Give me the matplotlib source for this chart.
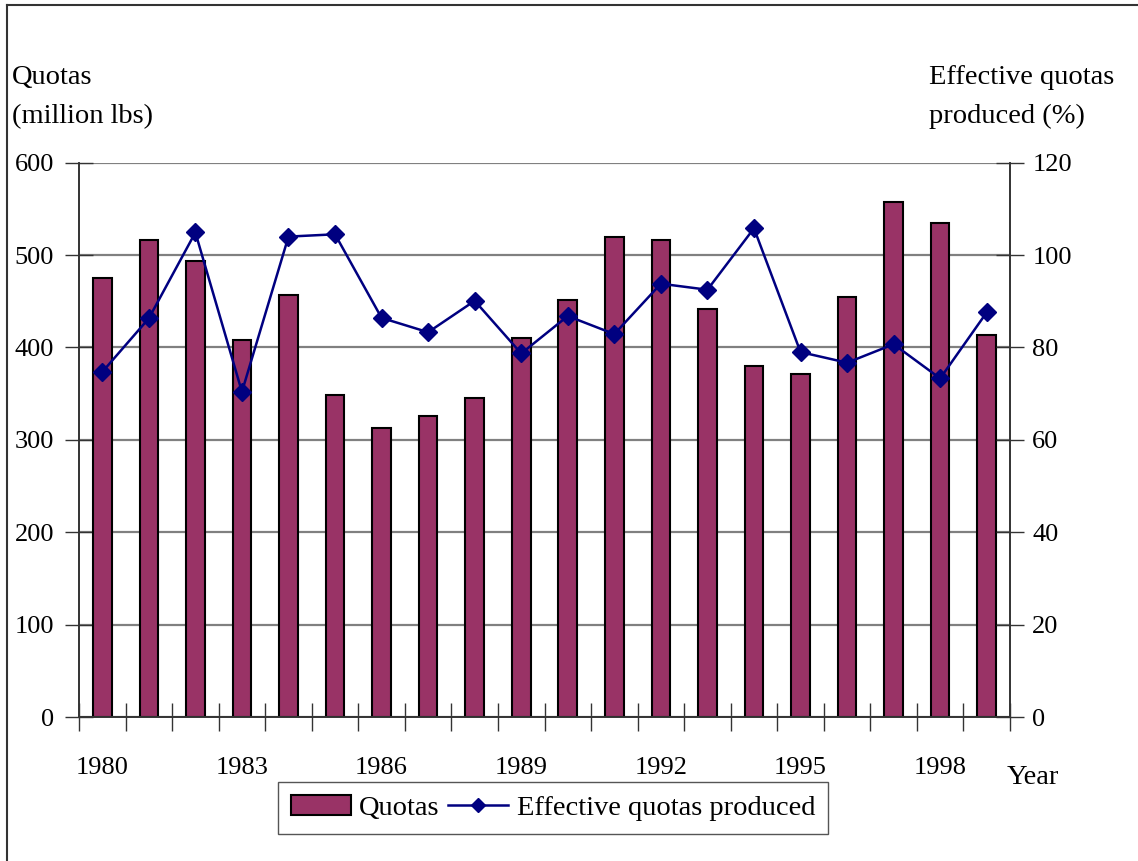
import matplotlib
matplotlib.use("Agg")
import matplotlib.pyplot as plt
from matplotlib.lines import Line2D
from matplotlib.patches import Patch
import numpy as np

years = list(range(1980, 2000))
quotas = [475, 516, 494, 408, 457, 349, 313, 326, 345, 410,
          451, 520, 516, 442, 380, 371, 455, 557, 535, 414]
effective = [74.7, 86.3, 104.9, 70.4, 104.0, 104.5, 86.4, 83.3, 90.1, 78.7,
             86.8, 82.9, 93.8, 92.5, 105.8, 79.0, 76.7, 80.7, 73.3, 87.6]
left_ticks = [0, 100, 200, 300, 400, 500, 600]
right_ticks = [0, 20, 40, 60, 80, 100, 120]
label_years = years[::3]

plt.rcParams['font.family'] = ['Liberation Serif', 'DejaVu Serif']
FS = 19
FT = 20.5
BAR = '#993366'
LINE = '#000080'

W, H = 1138, 861
fig = plt.figure(figsize=(W / 100, H / 100), dpi=100)
ax = fig.add_axes([79 / W, 1 - 717 / H, (1010 - 79) / W, (717 - 162.7) / H])
ax2 = ax.twinx()

x = np.arange(len(years))
ax.bar(x, quotas, width=0.4, color=BAR, edgecolor='black', linewidth=1.5, zorder=2)
ax2.plot(x, effective, color=LINE, linewidth=1.8, marker='D', markersize=9.5,
         markerfacecolor=LINE, markeredgecolor=LINE, zorder=3)

ax.set_xlim(-0.5, len(years) - 0.5)
ax.set_ylim(0, 600)
ax2.set_ylim(0, 120)
ax.set_yticks(left_ticks)
ax2.set_yticks(right_ticks)
ax.set_yticklabels([str(v) for v in left_ticks], fontsize=FS)
ax2.set_yticklabels([str(v) for v in right_ticks], fontsize=FS)

ax.set_xticks(np.arange(-0.5, len(years), 1.0))
ax.set_xticklabels([])
lab_pos = [years.index(y) for y in label_years]
ax.set_xticks(lab_pos, minor=True)
ax.set_xticklabels([str(y) for y in label_years], minor=True, fontsize=FS)
ax.tick_params(axis='x', which='major', direction='inout', length=20, width=1, color='#333333')
ax.tick_params(axis='x', which='minor', length=0, pad=29)
ax.tick_params(axis='y', direction='inout', length=20, width=1, color='#333333', pad=8)
ax2.tick_params(axis='y', direction='inout', length=20, width=1, color='#333333', pad=6)

ax.grid(axis='y', color='#808080', linewidth=1.6)
ax.set_axisbelow(True)
for a in (ax, ax2):
    a.spines['top'].set_visible(False)
    for s in ('left', 'right', 'bottom'):
        a.spines[s].set_color('#333333')
        a.spines[s].set_linewidth(1.2)

fig.text(12 / W, 1 - 97 / H, 'Quotas\n(million lbs)', fontsize=FT, ha='left', va='center',
         linespacing=1.7)
fig.text(929 / W, 1 - 97 / H, 'Effective quotas\nproduced (%)', fontsize=FT, ha='left',
         va='center', linespacing=1.7)
fig.text(1007 / W, 1 - 778 / H, 'Year', fontsize=FT, ha='left', va='center')

handles = [Patch(facecolor=BAR, edgecolor='black', linewidth=1.5),
           Line2D([0], [0], color=LINE, linewidth=1.8, marker='D', markersize=7,
                  markerfacecolor=LINE, markeredgecolor=LINE)]
leg = fig.legend(handles, ['Quotas', 'Effective quotas produced'], loc='center',
                 bbox_to_anchor=(553 / W, 1 - 808 / H), ncol=2, fontsize=FT,
                 frameon=True, fancybox=False, edgecolor='#555555', framealpha=1,
                 handlelength=2.1, handletextpad=0.3, columnspacing=0.3,
                 borderpad=0.45)
leg.get_frame().set_linewidth(1.0)

# figure border (left and top visible)
fig.add_artist(Line2D([7 / W, 7 / W], [0, 1 - 5 / H], transform=fig.transFigure,
                      color='#333333', linewidth=1.5))
fig.add_artist(Line2D([7 / W, 1], [1 - 5 / H, 1 - 5 / H], transform=fig.transFigure,
                      color='#333333', linewidth=1.5))

fig.savefig('out.png', dpi=100)
